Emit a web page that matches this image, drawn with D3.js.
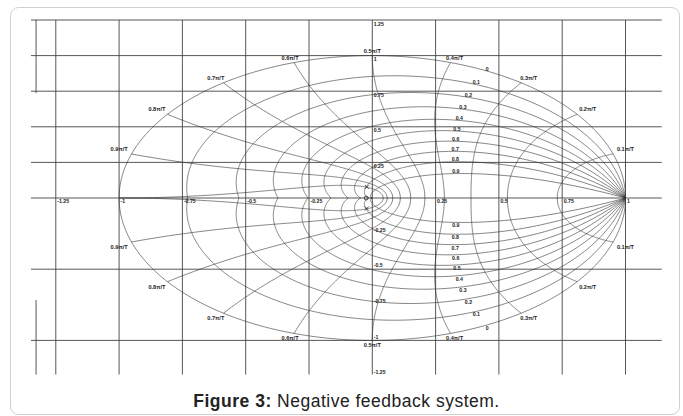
<!DOCTYPE html>
<html>
<head>
<meta charset="utf-8">
<script src="https://cdn.jsdelivr.net/npm/d3@7"></script>
<style>
  body { margin: 0; background: #fff; }
  svg { display: block; }
</style>
</head>
<body>
<div id="chart"></div>
<script>
// Données : grille z (amortissement et pulsation naturelle)
const zetaValues = [0, 0.1, 0.2, 0.3, 0.4, 0.5, 0.6, 0.7, 0.8, 0.9];
const zetaLabels = ["0", "0.1", "0.2", "0.3", "0.4", "0.5", "0.6", "0.7", "0.8", "0.9"];
const wnValues = [0.1, 0.2, 0.3, 0.4, 0.5, 0.6, 0.7, 0.8, 0.9, 1.0]; // en π/T
const wnLabels = ["0.1π/T", "0.2π/T", "0.3π/T", "0.4π/T", "0.5π/T",
                  "0.6π/T", "0.7π/T", "0.8π/T", "0.9π/T"];
const xTicks = [-1.25, -1, -0.75, -0.5, -0.25, 0.25, 0.5, 0.75, 1];
const xTickLabels = ["-1.25", "-1", "-0.75", "-0.5", "-0.25", "0.25", "0.5", "0.75", "1"];
const yTicks = [1.25, 1, 0.75, 0.5, 0.25, -0.25, -0.5, -0.75, -1, -1.25];
const yTickLabels = ["1.25", "1", "0.75", "0.5", "0.25", "-0.25", "-0.5", "-0.75", "-1", "-1.25"];
const xGrid = [-1.25, -1, -0.75, -0.5, -0.25, 0, 0.25, 0.5, 0.75, 1];
const yGrid = [1.25, 1, 0.75, 0.5, 0.25, 0, -0.5, -1];
const poles = [[-0.022, 0.078], [-0.022, -0.074]];
const zeros = [[-0.024, 0]];

const W = 683, H = 416;

const svg = d3.select("#chart")
    .append("svg")
    .attr("width", W)
    .attr("height", H);

// Cadre de la figure
svg.append("rect")
    .attr("x", 10.5).attr("y", 7.5)
    .attr("width", 669).attr("height", 407)
    .attr("rx", 8)
    .attr("fill", "#fff")
    .attr("stroke", "#cfcfcf");

// Échelles
const x = d3.scaleLinear().domain([-1, 1]).range([119.1, 625.5]);
const y = d3.scaleLinear().domain([-1, 1]).range([340.4, 55.6]);

const g = svg.append("g");

// Grille
g.selectAll(".vgrid")
    .data(xGrid)
    .enter().append("line")
    .attr("x1", d => x(d)).attr("x2", d => x(d))
    .attr("y1", y(1.25)).attr("y2", y(-1.24))
    .attr("stroke", "#444").attr("stroke-width", 0.9);

g.selectAll(".hgrid")
    .data(yGrid)
    .enter().append("line")
    .attr("x1", x(-1.348)).attr("x2", x(1.143))
    .attr("y1", d => y(d)).attr("y2", d => y(d))
    .attr("stroke", "#444").attr("stroke-width", 0.9);

// Morceaux de l'axe gauche
[[1.25, 0.737], [-0.717, -1.24]].forEach(s => {
    g.append("line")
        .attr("x1", x(-1.328)).attr("x2", x(-1.328))
        .attr("y1", y(s[0])).attr("y2", y(s[1]))
        .attr("stroke", "#444").attr("stroke-width", 0.9);
});

const line = d3.line().x(p => x(p[0])).y(p => y(p[1]));

// Courbes d'amortissement constant
zetaValues.forEach(z => {
    const m = z / Math.sqrt(1 - z * z);
    const pts = d3.range(0, 301).map(i => {
        const w = Math.PI * i / 300;
        const r = Math.exp(-m * w);
        return [r * Math.cos(w), r * Math.sin(w)];
    });
    [1, -1].forEach(sgn => {
        g.append("path")
            .attr("d", line(pts.map(p => [p[0], sgn * p[1]])))
            .attr("fill", "none")
            .attr("stroke", "#333")
            .attr("stroke-width", 0.6);
    });
});

// Courbes de pulsation naturelle constante
wnValues.forEach(k => {
    const wn = k * Math.PI;
    const pts = d3.range(0, 201).map(i => {
        const z = i / 200;
        const r = Math.exp(-z * wn);
        const a = wn * Math.sqrt(1 - z * z);
        return [r * Math.cos(a), r * Math.sin(a)];
    });
    [1, -1].forEach(sgn => {
        g.append("path")
            .attr("d", line(pts.map(p => [p[0], sgn * p[1]])))
            .attr("fill", "none")
            .attr("stroke", "#333")
            .attr("stroke-width", 0.6);
    });
});

const small = "Liberation Sans, Arial, sans-serif";

// Étiquettes d'amortissement
zetaValues.forEach((z, i) => {
    const w = 1.1 * Math.sqrt(1 - z * z);
    const r = Math.exp(-1.1 * z);
    const px = x(r * Math.cos(w)), py = r * Math.sin(w);
    [[y(py), -0.5], [y(-py), 5]].forEach(t => {
        g.append("text")
            .attr("x", px).attr("y", t[0] + t[1])
            .attr("text-anchor", "middle")
            .attr("font-family", small).attr("font-size", 5.2).attr("font-weight", "bold")
            .attr("fill", "#222")
            .text(zetaLabels[i]);
    });
});

// Étiquettes de pulsation naturelle
wnLabels.forEach((lab, i) => {
    const a = wnValues[i] * Math.PI;
    const px = x(Math.cos(a)) + 13 * Math.cos(a);
    [[y(Math.sin(a)) - 5], [y(-Math.sin(a)) + 5]].forEach(t => {
        g.append("text")
            .attr("x", px).attr("y", t[0])
            .attr("dy", "0.35em")
            .attr("text-anchor", "middle")
            .attr("font-family", small).attr("font-size", 5.6).attr("font-weight", "bold")
            .attr("fill", "#222")
            .text(lab);
    });
});

// Graduations
g.selectAll(".xtick")
    .data(xTicks)
    .enter().append("text")
    .attr("x", d => x(d) + 1.5)
    .attr("y", y(0) + 3.5)
    .attr("dy", "0.35em")
    .attr("font-family", small).attr("font-size", 5.2).attr("font-weight", "bold")
    .attr("fill", "#222")
    .text((d, i) => xTickLabels[i]);

g.selectAll(".ytick")
    .data(yTicks)
    .enter().append("text")
    .attr("x", x(0) + 1.5)
    .attr("y", d => y(d) + (d > 0 ? 3.8 : -3.6))
    .attr("dy", "0.35em")
    .attr("font-family", small).attr("font-size", 5.2).attr("font-weight", "bold")
    .attr("fill", "#222")
    .text((d, i) => yTickLabels[i]);

// Pôles et zéros
poles.forEach(p => {
    const cx = x(p[0]), cy = y(p[1]);
    g.append("path")
        .attr("d", `M${cx - 2},${cy - 2}L${cx + 2},${cy + 2}M${cx - 2},${cy + 2}L${cx + 2},${cy - 2}`)
        .attr("stroke", "#222").attr("stroke-width", 0.8);
});
zeros.forEach(p => {
    g.append("circle")
        .attr("cx", x(p[0])).attr("cy", y(p[1]))
        .attr("r", 2)
        .attr("fill", "none")
        .attr("stroke", "#222").attr("stroke-width", 0.8);
});

// Légende de la figure
const cap = svg.append("text")
    .attr("x", 346.5).attr("y", 407.3)
    .attr("text-anchor", "middle")
    .attr("font-family", "Liberation Sans, Arial, sans-serif")
    .attr("font-size", 17.5)
    .attr("letter-spacing", 0.5)
    .attr("fill", "#222");
cap.append("tspan").attr("font-weight", "bold").text("Figure 3:");
cap.append("tspan").text(" Negative feedback system.");
</script>
</body>
</html>
